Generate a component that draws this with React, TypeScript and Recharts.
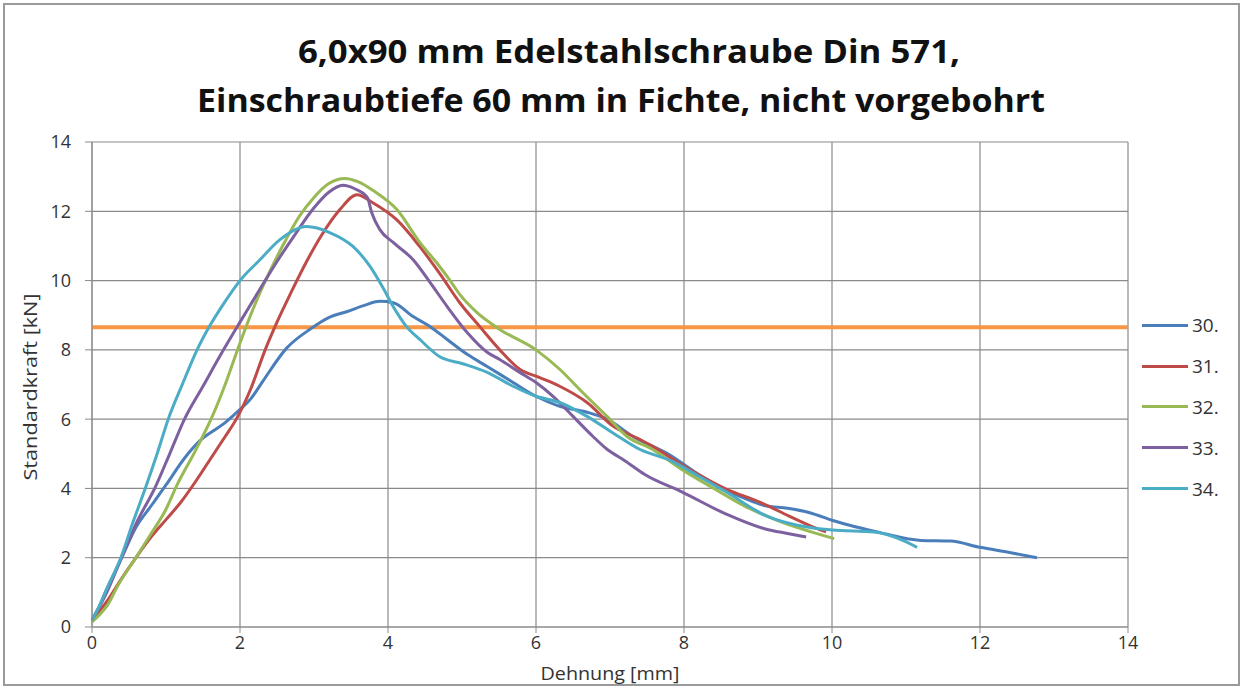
import React from 'react';
import { LineChart, Line, XAxis, YAxis, CartesianGrid, ReferenceLine } from 'recharts';

type Pt = { x: number; y: number };
const P = (arr: number[][]): Pt[] => arr.map(([x, y]) => ({ x, y }));

const titleLines = ['6,0x90 mm Edelstahlschraube Din 571,', 'Einschraubtiefe 60 mm in Fichte, nicht vorgebohrt'];
const xLabel = 'Dehnung [mm]';
const yLabel = 'Standardkraft [kN]';
const xTicks = [0, 2, 4, 6, 8, 10, 12, 14];
const yTicks = [0, 2, 4, 6, 8, 10, 12, 14];
const thresholdValue = 8.65;

const series30 = P([
  [0, 0.2], [0.1, 0.6], [0.2, 1.1], [0.38, 1.9], [0.6, 2.9], [0.8, 3.5], [1.0, 4.1], [1.26, 4.9], [1.47, 5.4],
  [1.63, 5.65], [1.8, 5.9], [1.96, 6.2], [2.15, 6.6], [2.31, 7.1], [2.63, 8.05], [2.95, 8.6], [3.22, 8.95], [3.44, 9.1],
  [3.7, 9.3], [3.89, 9.4], [4.07, 9.36], [4.34, 8.96], [4.57, 8.67], [4.8, 8.3], [5.07, 7.87], [5.34, 7.52],
  [5.69, 7.06], [6.0, 6.66], [6.32, 6.37], [6.69, 6.2], [6.96, 6.0], [7.31, 5.5], [7.82, 4.95], [8.2, 4.4],
  [8.57, 3.95], [8.92, 3.63], [9.1, 3.5], [9.4, 3.43], [9.7, 3.3], [10.0, 3.08], [10.3, 2.9], [10.6, 2.75],
  [11.2, 2.5], [11.6, 2.48], [12.0, 2.3], [12.4, 2.15], [12.77, 2.0],
]);
const series31 = P([
  [0, 0.2], [0.22, 0.8], [0.4, 1.4], [0.58, 1.96], [0.8, 2.6], [1.0, 3.1], [1.2, 3.6], [1.4, 4.2], [1.6, 4.85],
  [1.8, 5.5], [1.95, 6.0], [2.15, 6.9], [2.34, 8.0], [2.5, 8.8], [2.7, 9.7], [2.9, 10.55], [3.1, 11.3],
  [3.35, 12.05], [3.58, 12.48], [3.8, 12.24], [4.12, 11.75], [4.43, 10.98], [4.7, 10.2],
  [4.97, 9.36], [5.24, 8.67], [5.51, 8.0], [5.78, 7.44], [6.05, 7.2], [6.32, 6.95], [6.69, 6.48], [7.04, 5.8],
  [7.4, 5.42], [7.57, 5.22], [8.07, 4.55], [8.57, 3.98], [9.03, 3.6], [9.42, 3.2], [9.73, 2.9], [9.92, 2.75],
]);
const series32 = P([
  [0, 0.15], [0.1, 0.35], [0.2, 0.6], [0.35, 1.2], [0.58, 1.96], [0.8, 2.7], [1.0, 3.4], [1.14, 4.06], [1.4, 5.1],
  [1.63, 6.1], [1.8, 7.0], [2.0, 8.2], [2.2, 9.3], [2.4, 10.25], [2.6, 11.1], [2.8, 11.85],
  [3.0, 12.4], [3.2, 12.8], [3.42, 12.95], [3.6, 12.85], [3.8, 12.6], [4.12, 12.05], [4.43, 11.1], [4.7, 10.4],
  [4.84, 10.0], [4.97, 9.6], [5.2, 9.08], [5.51, 8.59], [6.0, 8.0], [6.32, 7.44], [6.63, 6.77], [6.96, 6.08],
  [7.23, 5.5], [7.57, 5.13], [7.97, 4.55], [8.42, 3.98], [8.82, 3.49], [9.32, 3.03], [9.73, 2.74], [10.03, 2.55],
]);
const series33 = P([
  [0, 0.2], [0.2, 1.0], [0.38, 1.9], [0.6, 3.0], [0.86, 4.06], [1.05, 5.0], [1.25, 6.0], [1.5, 6.95], [1.75, 7.9],
  [2.0, 8.8], [2.17, 9.4], [2.34, 10.0], [2.5, 10.55], [2.75, 11.35], [3.0, 12.1], [3.2, 12.55],
  [3.39, 12.75], [3.55, 12.65], [3.72, 12.4], [3.78, 11.96], [3.89, 11.47], [4.07, 11.1], [4.34, 10.6],
  [4.57, 9.94], [4.8, 9.25], [5.07, 8.5], [5.34, 7.93], [5.51, 7.72], [5.78, 7.35], [6.0, 7.06], [6.23, 6.66],
  [6.5, 6.08], [6.77, 5.5], [6.96, 5.13], [7.2, 4.8], [7.47, 4.4], [7.97, 3.9], [8.57, 3.26], [9.1, 2.83],
  [9.4, 2.7], [9.65, 2.6],
]);
const series34 = P([
  [0, 0.2], [0.1, 0.6], [0.2, 1.1], [0.39, 2.0], [0.55, 3.0], [0.73, 4.06], [0.88, 5.0], [1.03, 6.0], [1.22, 7.0],
  [1.42, 8.0], [1.58, 8.65], [1.8, 9.4], [2.0, 10.0], [2.27, 10.6], [2.54, 11.18], [2.9, 11.56], [3.22, 11.38],
  [3.53, 10.98], [3.76, 10.4], [3.93, 9.8], [4.07, 9.25], [4.25, 8.67], [4.43, 8.3], [4.7, 7.8], [5.01, 7.6],
  [5.34, 7.35], [5.69, 6.95], [6.0, 6.66], [6.32, 6.48], [6.69, 6.08], [7.04, 5.6], [7.4, 5.13], [7.82, 4.8],
  [8.2, 4.35], [8.57, 3.9], [9.12, 3.2], [9.62, 2.9], [10.0, 2.8], [10.57, 2.74], [10.9, 2.55], [11.15, 2.3],
]);

const seriesNames = ['30.', '31.', '32.', '33.', '34.'];
const seriesData = [series30, series31, series32, series33, series34];
const seriesColors = ['#4A7EBB', '#BE4B48', '#98B954', '#7D60A0', '#4BACC6'];
const thresholdColor = '#F79646';

const FONT = "'Open Sans', 'Noto Sans', sans-serif";
const GRID = '#8a8a8a';
const TEXT = '#333333';

export default function App() {
  return (
    <div style={{ position: 'absolute', left: 0, top: 0, width: 1242, height: 688, background: '#fff', fontFamily: FONT, overflow: 'hidden' }}>
      <div style={{ position: 'absolute', left: 3, top: 3, width: 1237, height: 683, boxSizing: 'border-box', border: '2px solid #9a9a9a' }} />
      <svg width={1242} height={130} style={{ position: 'absolute', left: 0, top: 0 }}>
        <text x={629} y={63} textAnchor="middle" fontFamily={FONT} fontWeight={700} fontSize={32} fill="#111" textLength={662} lengthAdjust="spacingAndGlyphs">{titleLines[0]}</text>
        <text x={621} y={112} textAnchor="middle" fontFamily={FONT} fontWeight={700} fontSize={32} fill="#111" textLength={848} lengthAdjust="spacingAndGlyphs">{titleLines[1]}</text>
      </svg>
      <div style={{ position: 'absolute', left: 0, top: 0 }}>
        <LineChart width={1242} height={688} margin={{ top: 142, right: 114, bottom: 0, left: 0 }}>
          <CartesianGrid stroke={GRID} strokeWidth={1.2} />
          <XAxis
            type="number"
            dataKey="x"
            domain={[0, 14]}
            ticks={xTicks}
            height={61}
            stroke={GRID}
            tickSize={6}
            tickMargin={3}
            tick={{ fill: TEXT, fontSize: 18, fontFamily: FONT }}
            allowDuplicatedCategory={false}
            label={{
              content: () => (
                <text x={610} y={680} textAnchor="middle" fill={TEXT} fontSize={18} fontFamily={FONT} textLength={139} lengthAdjust="spacingAndGlyphs">
                  {xLabel}
                </text>
              ),
            }}
          />
          <YAxis
            type="number"
            domain={[0, 14]}
            ticks={yTicks}
            width={92}
            stroke={GRID}
            tickSize={7}
            tickMargin={14}
            tick={{ fill: TEXT, fontSize: 18, fontFamily: FONT }}
            label={{
              content: () => (
                <text x={30} y={387} transform="rotate(-90 30 387)" textAnchor="middle" dominantBaseline="central" fill={TEXT} fontSize={18} fontFamily={FONT} textLength={187} lengthAdjust="spacingAndGlyphs">
                  {yLabel}
                </text>
              ),
            }}
          />
          <ReferenceLine y={thresholdValue} stroke={thresholdColor} strokeWidth={4} ifOverflow="extendDomain" />
          {seriesData.map((d, i) => (
            <Line
              key={seriesNames[i]}
              data={d}
              dataKey="y"
              name={seriesNames[i]}
              type="monotone"
              stroke={seriesColors[i]}
              strokeWidth={3}
              dot={false}
              isAnimationActive={false}
            />
          ))}
        </LineChart>
      </div>
      <div style={{ position: 'absolute', left: 1142, top: 305 }}>
        {seriesNames.map((n, i) => (
          <div key={n} style={{ height: 40.8, display: 'flex', alignItems: 'center' }}>
            <div style={{ width: 46, height: 3, background: seriesColors[i] }} />
            <span style={{ marginLeft: 4, fontSize: 19, color: TEXT, fontFamily: FONT }}>{n}</span>
          </div>
        ))}
      </div>
    </div>
  );
}
